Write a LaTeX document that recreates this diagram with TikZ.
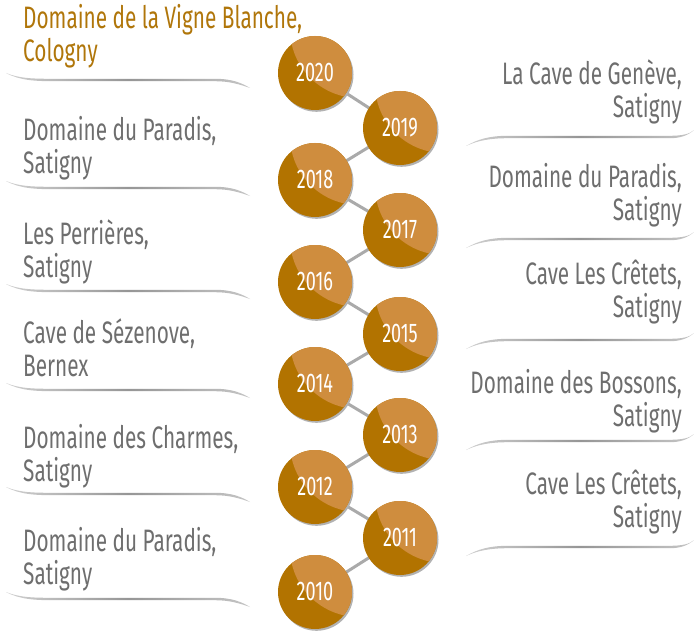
\documentclass[tikz,border=0pt]{standalone}
\usepackage{fontspec}
\setmainfont{Fira Sans}[FakeStretch=0.67]
\usetikzlibrary{shadows,backgrounds}
\definecolor{cdark}{RGB}{178,115,0}
\definecolor{clight}{RGB}{207,141,62}
\definecolor{ctext}{RGB}{110,110,110}
\definecolor{cgold}{RGB}{176,118,10}
\definecolor{cline}{RGB}{170,170,170}
\definecolor{cswoosh}{RGB}{150,150,150}
\tikzset{
  yearnode/.style={circle, minimum size=74pt, inner sep=0pt, fill=cdark, text=white,
    font=\fontsize{27}{27}\selectfont,
    drop shadow={shadow xshift=1.5pt, shadow yshift=-1.8pt, fill=black!30, opacity=1},
    path picture={\fill[clight] (path picture bounding box.center) ++(44,-44) circle (69);}},
  connector/.style={draw=cline, line width=3pt},
  labelL/.style={anchor=base west, align=left, inner sep=0pt, text=ctext, font=\fontsize{31}{33}\selectfont},
  labelR/.style={anchor=base east, align=right, inner sep=0pt, text=ctext, font=\fontsize{31}{33}\selectfont},
  swooshfill/.style={left color=cswoosh!45, right color=cswoosh!55, middle color=cswoosh},
  lswoosh/.pic={
    \shade[swooshfill] (6,-7) .. controls (20,-1.2) and (35,-1.2) .. (55,-1.2) -- (215,-1.2)
      .. controls (232,-1.2) and (242,3) .. (250,8)
      .. controls (240,4.5) and (230,1.2) .. (215,1.2) -- (55,1.2)
      .. controls (35,1.2) and (20,0.5) .. (6,-7) -- cycle;},
  rswoosh/.pic={
    \shade[swooshfill] (466,9) .. controls (478,2) and (490,-1.2) .. (508,-1.2) -- (670,-1.2)
      .. controls (682,-1.2) and (690,-3) .. (694,-7)
      .. controls (688,-1.5) and (680,1.2) .. (670,1.2) -- (508,1.2)
      .. controls (490,1.2) and (478,3.5) .. (466,9) -- cycle;},
}
\begin{document}
\begin{tikzpicture}[x=1pt,y=-1pt]
\useasboundingbox (0,0) rectangle (695,631);
% year circles
\node[yearnode] (y2020) at (315,73) {\raisebox{1.5pt}{2020}};
\node[yearnode] (y2019) at (400,128) {\raisebox{1.5pt}{2019}};
\node[yearnode] (y2018) at (315,180) {\raisebox{1.5pt}{2018}};
\node[yearnode] (y2017) at (400,230) {\raisebox{1.5pt}{2017}};
\node[yearnode] (y2016) at (315,282) {\raisebox{1.5pt}{2016}};
\node[yearnode] (y2015) at (400,334) {\raisebox{1.5pt}{2015}};
\node[yearnode] (y2014) at (315,384) {\raisebox{1.5pt}{2014}};
\node[yearnode] (y2013) at (400,435) {\raisebox{1.5pt}{2013}};
\node[yearnode] (y2012) at (315,487) {\raisebox{1.5pt}{2012}};
\node[yearnode] (y2011) at (400,538) {\raisebox{1.5pt}{2011}};
\node[yearnode] (y2010) at (315,592) {\raisebox{1.5pt}{2010}};
\begin{scope}[on background layer]
\draw[connector] (y2020.center) -- (y2019.center) -- (y2018.center) -- (y2017.center)
  -- (y2016.center) -- (y2015.center) -- (y2014.center) -- (y2013.center)
  -- (y2012.center) -- (y2011.center) -- (y2010.center);
\end{scope}
% left labels (anchored at the baseline of the last line)
\node[labelL, text=cgold] (l1) at (23,62) {Domaine de la Vigne Blanche,\\Cologny};
\node[labelL] (l2) at (23,174) {Domaine du Paradis,\\Satigny};
\node[labelL] (l3) at (23,277) {Les Perrières,\\Satigny};
\node[labelL] (l4) at (23,376) {Cave de Sézenove,\\Bernex};
\node[labelL] (l5) at (23,481) {Domaine des Charmes,\\Satigny};
\node[labelL] (l6) at (23,584) {Domaine du Paradis,\\Satigny};
\pic at (0,80) {lswoosh};
\pic at (0,188) {lswoosh};
\pic at (0,291) {lswoosh};
\pic at (0,390) {lswoosh};
\pic at (0,494) {lswoosh};
\pic at (0,599) {lswoosh};
% right labels
\node[labelR] (r1) at (682,118) {La Cave de Genève,\\Satigny};
\node[labelR] (r2) at (682,220) {Domaine du Paradis,\\Satigny};
\node[labelR] (r3) at (682,317) {Cave Les Crêtets,\\Satigny};
\node[labelR] (r4) at (682,426) {Domaine des Bossons,\\Satigny};
\node[labelR] (r5) at (682,527) {Cave Les Crêtets,\\Satigny};
\pic at (0,137) {rswoosh};
\pic at (0,239) {rswoosh};
\pic at (0,340) {rswoosh};
\pic at (0,441) {rswoosh};
\pic at (0,547) {rswoosh};
\end{tikzpicture}
\end{document}
